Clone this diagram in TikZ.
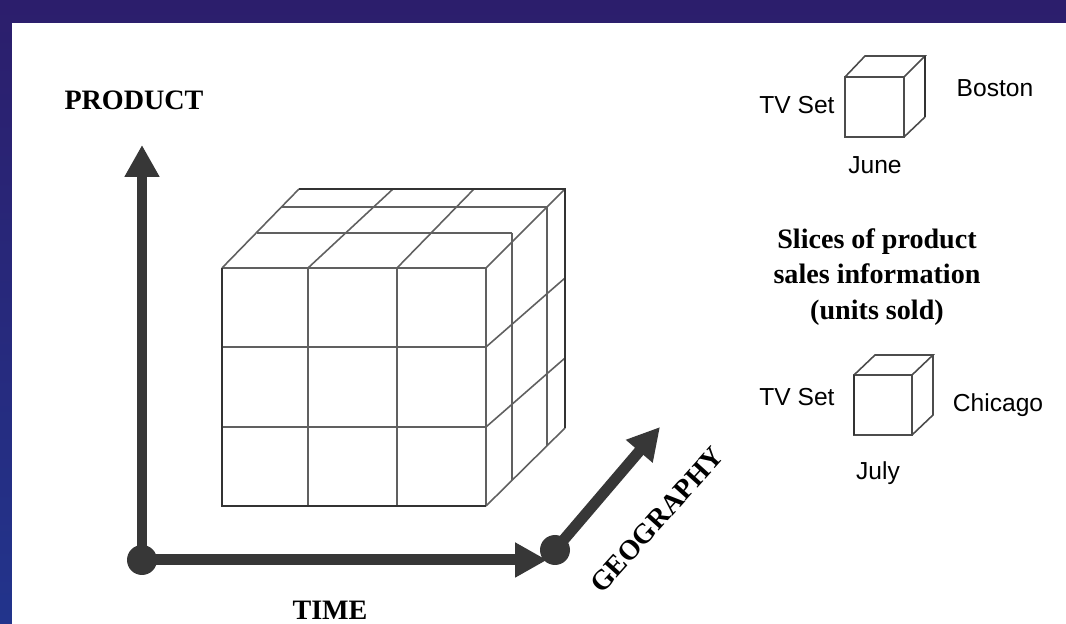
\documentclass[tikz,border=0pt]{standalone}
\usepackage{fontspec}
\setmainfont{Liberation Serif}
\newfontfamily\arialfont{Liberation Sans}
\usetikzlibrary{arrows.meta}
\definecolor{slidebg}{RGB}{44,30,108}
\definecolor{slidebgb}{RGB}{34,52,140}
\definecolor{axisgray}{RGB}{55,55,55}

\begin{document}
\begin{tikzpicture}[
    x=0.02cm,
    y=-0.02cm,
    axis/.style={
        draw=axisgray,
        line width=0.22cm,
        -{Triangle[length=0.64cm,width=0.66cm]}
    },
    dot/.style={
        circle,
        fill=axisgray,
        minimum size=0.6cm,
        inner sep=0pt
    },
    cell/.style={
        gray!75!black,
        line width=0.9pt
    },
    rim/.style={
        black!80,
        line width=1.7pt
    },
    axis label/.style={
        font=\fontsize{16}{20}\selectfont\bfseries,
        inner sep=0pt
    },
    slice label/.style={
        font=\arialfont\fontsize{14}{17}\selectfont,
        inner sep=0pt
    }
]

% slide background and white panel
\shade[top color=slidebg, bottom color=slidebgb] (0,0) rectangle (1066,624);
\fill[white] (12,23) rectangle (1066,624);
\useasboundingbox (0,0) rectangle (1066,624);

% cube: front face
\draw[cell] (308,268) -- (308,506);
\draw[cell] (397,268) -- (397,506);
\draw[cell] (486,268) -- (486,506);
\draw[cell] (222,268) -- (486,268);
\draw[cell] (222,347) -- (486,347);
\draw[cell] (222,427) -- (486,427);
% cube: top face
\draw[cell] (222,268) -- (299,189);
\draw[cell] (308,268) -- (393,189);
\draw[cell] (397,268) -- (474,189);
\draw[cell] (486,268) -- (565,189);
\draw[cell] (257,233) -- (512,233);
\draw[cell] (282,207) -- (547,207);
% cube: right face
\draw[cell] (486,347) -- (565,278);
\draw[cell] (486,427) -- (565,358);
\draw[cell] (486,506) -- (565,428);
\draw[cell] (512,233) -- (512,480);
\draw[cell] (547,207) -- (547,446);
% cube: outer edges
\draw[rim] (222,268) -- (222,506) -- (486,506);
\draw[rim] (299,189) -- (565,189) -- (565,428);

% axes
\coordinate (prodend) at (142,145);
\coordinate (timeend) at (547,560);
\coordinate (geoend) at (660,427);
\node[dot] (origin) at (142,560) {};
\node[dot] (geostart) at (555,550) {};
\draw[axis] (origin.center) -- (prodend);
\draw[axis] (origin.center) -- (timeend);
\draw[axis] (geostart.center) -- (geoend);

\node[axis label] (product) at (134,100) {PRODUCT};
\node[axis label] (time) at (330,610) {TIME};
\node[axis label, rotate=48] (geography) at (657,520) {GEOGRAPHY};

% slice 1
\draw[cell, black!70] (845,77) rectangle (904,137);
\draw[cell, black!70] (845,77) -- (865,56) -- (925,56) -- (904,77);
\draw[cell, black!70] (904,137) -- (925,117);
\draw[rim] (925,56) -- (925,117);
\node[slice label] (tv1) at (797,105) {TV Set};
\node[slice label] (boston) at (995,88) {Boston};
\node[slice label] (june) at (875,165) {June};

\node[axis label, align=center] (slices) at (877,277) {
    Slices of product\\
    sales information\\
    (units sold)
};

% slice 2
\draw[cell, black!70] (854,375) rectangle (912,435);
\draw[cell, black!70] (854,375) -- (875,355) -- (933,355) -- (912,375);
\draw[cell, black!70] (912,435) -- (933,415) -- (933,355);
\draw[rim] (854,375) -- (854,435);
\node[slice label] (tv2) at (797,397) {TV Set};
\node[slice label] (chicago) at (998,405) {Chicago};
\node[slice label] (july) at (878,473) {July};

\end{tikzpicture}
\end{document}
